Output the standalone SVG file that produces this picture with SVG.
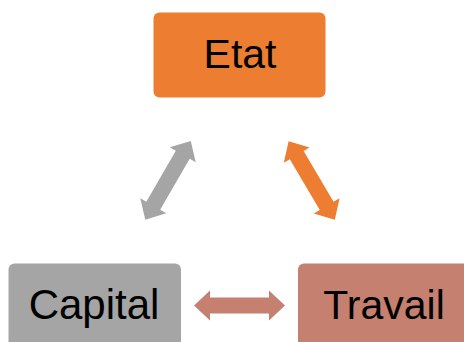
<svg xmlns="http://www.w3.org/2000/svg" width="464" height="342" viewBox="0 0 464 342">
  <defs>
    <style>
      .lbl { font-family: "Liberation Sans", Arial, sans-serif; font-size: 41px; fill: #000; text-anchor: middle; }
    </style>
    <path id="dbl" d="M-45.5,0 L-29.5,-15 L-29.5,-8 L29.5,-8 L29.5,-15 L45.5,0 L29.5,15 L29.5,8 L-29.5,8 L-29.5,15 Z"/>
  </defs>
  <rect width="464" height="342" fill="#fff"/>
  <g id="connectors">
    <use href="#dbl" fill="#A5A5A5" transform="translate(168,180.3) rotate(-60)"/>
    <use href="#dbl" fill="#ED7D31" transform="translate(311.7,180.5) rotate(59.5)"/>
    <use href="#dbl" fill="#C5806F" transform="translate(239.5,305.5)"/>
  </g>
  <g id="etat">
    <rect x="153.5" y="12.5" width="172" height="85" rx="6" fill="#ED7D31"/>
    <text class="lbl" x="240" y="68">Etat</text>
  </g>
  <g id="capital">
    <rect x="8.5" y="263.5" width="172.5" height="90" rx="6" fill="#A5A5A5"/>
    <text class="lbl" x="94" y="319" style="font-size:42px">Capital</text>
  </g>
  <g id="travail">
    <rect x="298" y="263.5" width="172" height="90" rx="6" fill="#C5806F"/>
    <text class="lbl" x="384" y="318.5">Travail</text>
  </g>
</svg>
